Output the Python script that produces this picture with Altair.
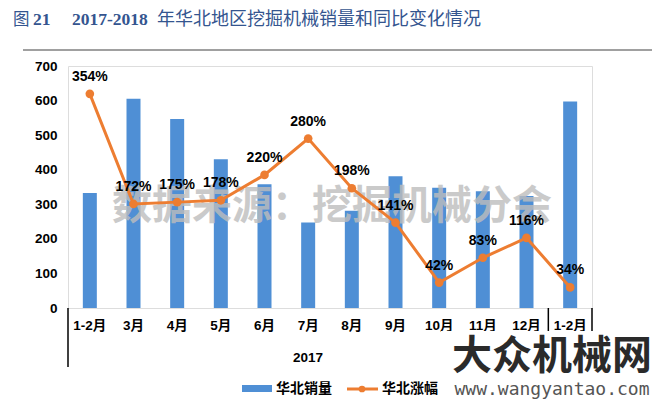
import altair as alt
import pandas as pd

# ---- data ----
years = ["2017"] * 11 + ["2018"]
months = ["1-2月", "3月", "4月", "5月", "6月", "7月", "8月", "9月", "10月", "11月", "12月", "1-2月"]
sales = [333, 605, 547, 430, 358, 247, 281, 381, 348, 338, 324, 597]
growth = [354, 172, 175, 178, 220, 280, 198, 141, 42, 83, 116, 34]

keys = [f"{y}|{m}" for y, m in zip(years, months)]
df = pd.DataFrame({"key": keys, "sales": sales, "growth": growth})

W, H = 524, 242
BLUE = "#4F8FD5"
ORANGE = "#ED7D31"
TITLE_C = "#34558F"
SANS = "Liberation Sans, Noto Sans CJK SC"
CJK = "Noto Sans CJK SC"
SERIF = "Liberation Serif, Noto Sans CJK SC"

x_enc = alt.X(
    "key:N", sort=keys, title=None,
    scale=alt.Scale(paddingInner=0, paddingOuter=0),
    axis=alt.Axis(labelExpr="split(datum.label, '|')[1]", labelAngle=0, ticks=False,
                  domain=False, labelPadding=10, labelFontSize=13.5, labelFontWeight="bold",
                  labelFont=SANS, labelColor="black"),
)

bars = alt.Chart(df).mark_bar(size=14, color=BLUE).encode(
    x=x_enc,
    y=alt.Y("sales:Q", title=None, scale=alt.Scale(domain=[0, 700]),
            axis=alt.Axis(values=[0, 100, 200, 300, 400, 500, 600, 700], ticks=False, domain=False,
                          grid=False, labelPadding=11, labelFontSize=13.5, labelFontWeight="bold",
                          labelFont=SANS, labelColor="black")),
)

yr = alt.Y("growth:Q", title=None, scale=alt.Scale(domain=[0, 400]),
           axis=alt.Axis(orient="right", values=[0, 100, 200, 300, 400], ticks=False, domain=False,
                         grid=False, labelPadding=13, labelFontSize=13.5, labelFontWeight="bold",
                         labelFont=SANS, labelColor="black", labelExpr="datum.value + '%'"))

base = alt.Chart(df)

# watermark in the plot
wm = alt.Chart(pd.DataFrame({"t": ["数据来源：挖掘机械分会"]})).mark_text(
    font=CJK, fontSize=40, fontWeight="bold", color="#BDBDBD", opacity=0.8,
    align="center", baseline="middle"
).encode(text="t:N", x=alt.value(264), y=alt.value(141))

line = base.mark_line(color=ORANGE, strokeWidth=3).encode(x=alt.X("key:N", sort=keys), y=yr)
pts = base.mark_point(filled=True, color=ORANGE, size=75, opacity=1).encode(
    x=alt.X("key:N", sort=keys), y=alt.Y("growth:Q", axis=None))
lbl = base.mark_text(dy=-17, font=SANS, fontSize=14, fontWeight="bold", color="black",
                     baseline="middle").encode(
    x=alt.X("key:N", sort=keys), y=alt.Y("growth:Q", axis=None),
    text=alt.Text("lbl:N")).transform_calculate(lbl="datum.growth + '%'")

right = alt.layer(line, pts, lbl)

# decorations
one = pd.DataFrame({"a": [0]})
def rule(x1, x2, y1, y2, color, w):
    return alt.Chart(one).mark_rule(color=color, strokeWidth=w, clip=False).encode(
        x=alt.value(x1), x2=alt.value(x2), y=alt.value(y1), y2=alt.value(y2))

def txt(s, x, y, size, font, color, weight="normal", align="left"):
    return alt.Chart(pd.DataFrame({"t": [s]})).mark_text(
        font=font, fontSize=size, fontWeight=weight, color=color, align=align,
        baseline="middle", clip=False).encode(text="t:N", x=alt.value(x), y=alt.value(y))

sep = W * 11 / 12
TY = -46
deco = [
    rule(-45, 586, -16, -16, "#A0A0A0", 2),
    rule(-45, 377, 342, 342, "#A0A0A0", 2),
    rule(0, 0, H, 301, "black", 1.5),
    rule(sep, sep, H, 301, "black", 1.5),
    rule(W, W, H, 301, "black", 1.5),
    txt("2017", 240, 292, 13.5, SANS, "black", "bold", "center"),
    txt("图", -55, TY, 16.5, CJK, TITLE_C),
    txt("21", -35, TY, 17.5, SERIF, TITLE_C, "bold"),
    txt("2017-2018", 4, TY, 17.5, SERIF, TITLE_C, "bold"),
    txt("年华北地区挖掘机械销量和同比变化情况", 89, TY, 18, CJK, TITLE_C),
    # legend
    alt.Chart(one).mark_rect(color=BLUE).encode(
        x=alt.value(174), x2=alt.value(204), y=alt.value(319), y2=alt.value(326)),
    txt("华北销量", 208, 323, 14, CJK, "black", "bold"),
    rule(279, 310, 323, 323, ORANGE, 3),
    alt.Chart(one).mark_point(filled=True, color=ORANGE, size=45, opacity=1).encode(
        x=alt.value(294), y=alt.value(323)),
    txt("华北涨幅", 314, 323, 14, CJK, "black", "bold"),
    # site watermark
    alt.Chart(one).mark_rect(color="white", clip=False).encode(
        x=alt.value(373), x2=alt.value(600), y=alt.value(265), y2=alt.value(336)),
    txt("大众机械网", 484, 291, 40, CJK, "#2A2A2A", "bold", "center"),
    txt("www.wangyantao.com", 484, 324, 18, "DejaVu Sans Mono", "#555555", "normal", "center"),
]

chart = alt.layer(bars, wm, right, *deco).resolve_scale(y="independent").properties(
    width=W, height=H,
    autosize=alt.AutoSizeParams(type="none"),
    padding={"left": 60, "top": 58, "right": 60, "bottom": 94},
).configure_view(stroke="black", strokeWidth=1.5).configure(background="white")

chart.save("out.html", embed_options={"renderer": "svg", "actions": False})
